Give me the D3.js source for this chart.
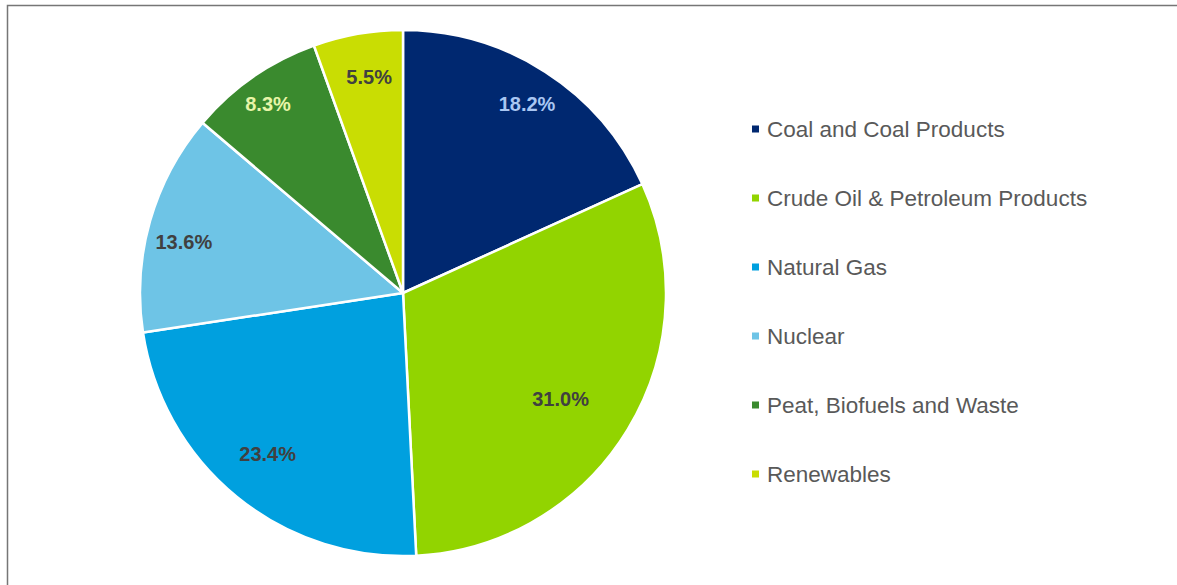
<!DOCTYPE html>
<html><head><meta charset="utf-8">
<script src="https://cdn.jsdelivr.net/npm/d3@7/dist/d3.min.js"></script>
<style>body{margin:0;background:#fff;}svg{display:block;}</style>
</head><body>
<script>
const categories = ["Coal and Coal Products","Crude Oil & Petroleum Products","Natural Gas","Nuclear","Peat, Biofuels and Waste","Renewables"];
const values = [18.2, 31.0, 23.4, 13.6, 8.3, 5.5];
const colors = ["#002870","#92D400","#00A0DF","#6EC4E6","#3A8A2E","#C9DD03"];
const labelColors = ["#A9C6F2","#404040","#404040","#404040","#E8F5A8","#404040"];
// label placement (layout only)
const labelRadiusFactor = [0.86, 0.722, 0.80, 0.856, 0.883, 0.832];
const labelAngleOffsetDeg = [0.5, 2.6, 0.8, -2.6, -0.8, 1.0];

const W = 1177, H = 585;
const svg = d3.select("body").append("svg").attr("width", W).attr("height", H);
svg.append("rect").attr("x", 7.5).attr("y", 5.5).attr("width", W + 10).attr("height", H + 10)
  .attr("fill", "#fff").attr("stroke", "#767676").attr("stroke-width", 1.5);

const cx = 403, cy = 293, R = 263;
const pie = d3.pie().sort(null).value(d => d);
const arcs = pie(values);
const arc = d3.arc().innerRadius(0).outerRadius(R);
const g = svg.append("g").attr("transform", `translate(${cx},${cy})`);
g.selectAll("path").data(arcs).join("path")
  .attr("d", arc).attr("fill", (d, i) => colors[i])
  .attr("stroke", "#fff").attr("stroke-width", 2.5).attr("stroke-linejoin", "round");

g.selectAll("text").data(arcs).join("text")
  .attr("transform", (d, i) => {
    const a = (d.startAngle + d.endAngle) / 2 + labelAngleOffsetDeg[i] * Math.PI / 180;
    const r = R * labelRadiusFactor[i];
    return `translate(${Math.sin(a) * r},${-Math.cos(a) * r})`;
  })
  .attr("text-anchor", "middle").attr("dy", "0.36em")
  .attr("font-family", "Liberation Sans, Arial, sans-serif")
  .attr("font-weight", "bold").attr("font-size", 20)
  .attr("fill", (d, i) => labelColors[i])
  .text(d => d.data.toFixed(1) + "%");

const lg = svg.append("g");
const rows = lg.selectAll("g").data(categories).join("g")
  .attr("transform", (d, i) => `translate(752,${129 + i * 69})`);
rows.append("rect").attr("x", 0).attr("y", -3.5).attr("width", 7).attr("height", 7)
  .attr("fill", (d, i) => colors[i]);
rows.append("text").attr("x", 15).attr("dy", "0.36em")
  .attr("font-family", "Liberation Sans, Arial, sans-serif").attr("font-size", 22.5)
  .attr("fill", "#595959").text(d => d);
</script>
</body></html>
